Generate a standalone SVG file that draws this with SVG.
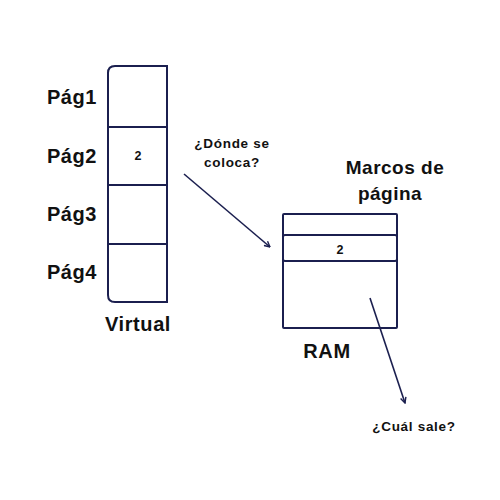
<svg xmlns="http://www.w3.org/2000/svg" width="500" height="500" viewBox="0 0 500 500">
<style>
.box{fill:#fff;stroke:#1b1f4f;stroke-width:2}
.ln{stroke:#1b1f4f;stroke-width:2}
.lbl{font-family:"Liberation Sans",Arial,sans-serif;font-weight:bold;fill:#111}
.big{font-size:20px;letter-spacing:0.6px}
.mid{font-size:19px;letter-spacing:0.5px}
.sm{font-size:13.5px;letter-spacing:0.7px}
.num{font-size:12.5px}
.con{stroke:#1b1f4f;stroke-width:1.6;fill:none;marker-end:url(#ah)}
</style>
<defs>
<marker id="ah" viewBox="0 0 10 10" refX="9" refY="5" markerWidth="7" markerHeight="7" orient="auto-start-reverse" markerUnits="userSpaceOnUse">
<path d="M1,1 L9,5 L1,9" fill="none" stroke="#1b1f4f" stroke-width="2"/>
</marker>
</defs>
<rect width="500" height="500" fill="#fff"/>
<g id="virtual">
<path class="box" d="M115,66 H167 V302 H115 Q108,302 108,295 V73 Q108,66 115,66 Z"/>
<line class="ln" x1="108" y1="127" x2="167" y2="127"/>
<line class="ln" x1="108" y1="185" x2="167" y2="185"/>
<line class="ln" x1="108" y1="244" x2="167" y2="244"/>
<text class="lbl num" x="138" y="160" text-anchor="middle">2</text>
<text class="lbl big" x="138" y="331" text-anchor="middle">Virtual</text>
</g>
<g id="labels">
<text class="lbl big" x="72" y="104" text-anchor="middle">Pág1</text>
<text class="lbl big" x="72" y="163" text-anchor="middle">Pág2</text>
<text class="lbl big" x="72" y="221" text-anchor="middle">Pág3</text>
<text class="lbl big" x="72" y="279" text-anchor="middle">Pág4</text>
</g>
<g id="ram">
<rect class="box" x="283" y="214" width="114" height="114" rx="1"/>
<rect class="box" x="283" y="235" width="114" height="26" rx="2"/>
<text class="lbl num" x="340" y="254" text-anchor="middle">2</text>
<text class="lbl big" x="327" y="358" text-anchor="middle">RAM</text>
</g>
<g id="marcos">
<text class="lbl mid" x="395" y="174" text-anchor="middle">Marcos de</text>
<text class="lbl mid" x="390" y="200" text-anchor="middle">página</text>
</g>
<g id="notes">
<text class="lbl sm" x="232" y="148" text-anchor="middle">¿Dónde se</text>
<text class="lbl sm" x="232" y="167" text-anchor="middle">coloca?</text>
<text class="lbl sm" x="414" y="431" text-anchor="middle">¿Cuál sale?</text>
</g>
<g id="connectors">
<line class="con" x1="184" y1="174" x2="270" y2="247"/>
<line class="con" x1="370" y1="298" x2="405" y2="403"/>
</g>
</svg>
